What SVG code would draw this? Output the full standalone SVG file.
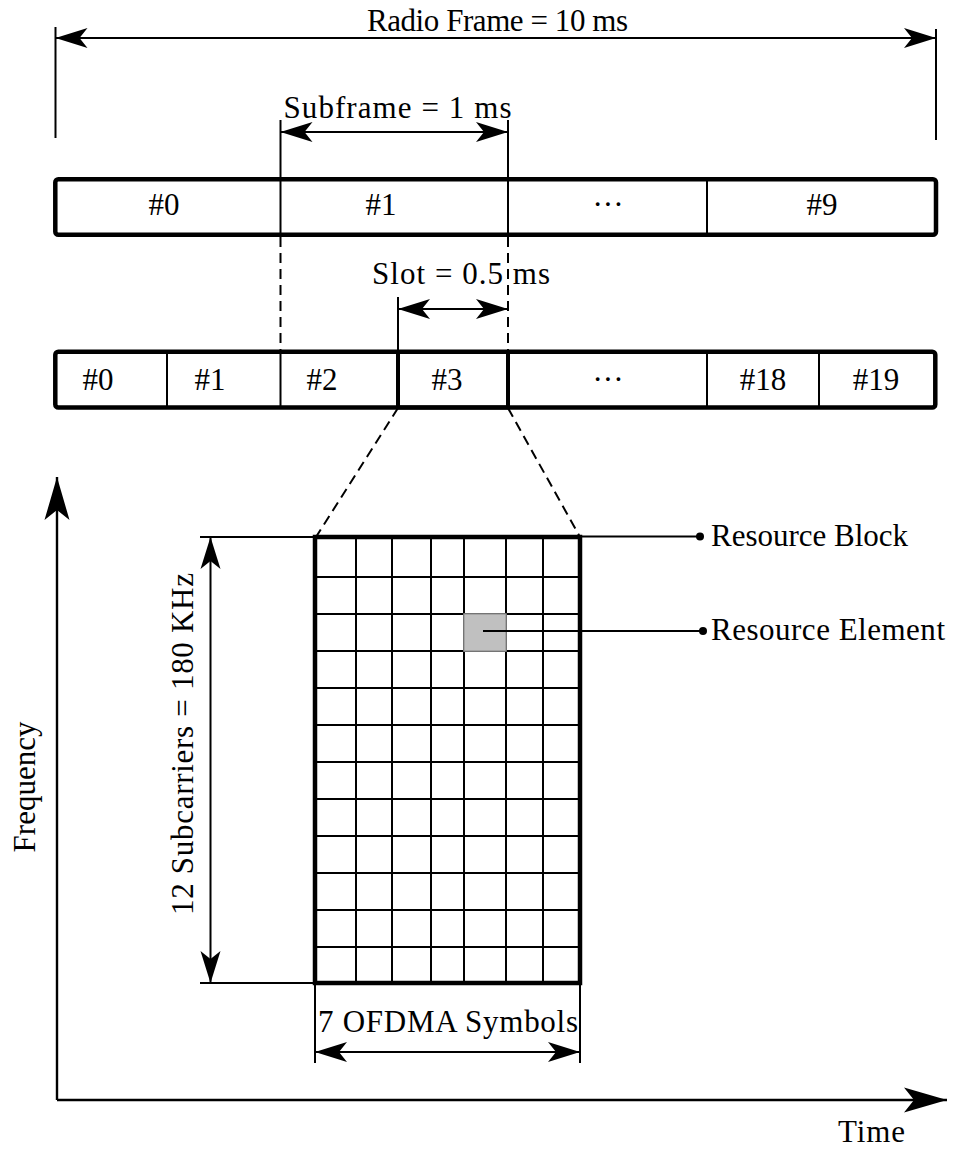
<svg xmlns="http://www.w3.org/2000/svg" width="954" height="1149" viewBox="0 0 954 1149">
<style>
text{font-family:"Liberation Serif","DejaVu Serif",serif;font-size:31px;fill:#000}
.mid{text-anchor:middle}
.thin{stroke:#000;stroke-width:2;fill:none}
.axis{stroke:#000;stroke-width:2.4;fill:none}
.bar{stroke:#000;stroke-width:4.5;fill:#fff}
.dash{stroke:#000;stroke-width:2;fill:none;stroke-dasharray:10,6}
.grid{stroke:#000;stroke-width:2;fill:none}
.dim{stroke:#000;stroke-width:2;fill:none;marker-start:url(#ah);marker-end:url(#ah)}
</style>
<defs>
<marker id="ah" viewBox="-33 -11 34 22" refX="0" refY="0" markerWidth="34" markerHeight="22" markerUnits="userSpaceOnUse" orient="auto-start-reverse">
<path d="M0,0 L-32,-10 L-24,0 L-32,10 Z" fill="#000"/>
</marker>
<marker id="big" viewBox="-44 -14 45 28" refX="0" refY="0" markerWidth="45" markerHeight="28" markerUnits="userSpaceOnUse" orient="auto">
<path d="M0,0 L-43,-12.5 L-33,0 L-43,12.5 Z" fill="#000"/>
</marker>
</defs>

<g id="radio-frame-label">
<text class="mid" x="497.5" y="31" textLength="261" lengthAdjust="spacing">Radio Frame = 10 ms</text>
</g>
<g id="subframe-label">
<text class="mid" x="397.5" y="118" textLength="228" lengthAdjust="spacing">Subframe = 1 ms</text>
</g>

<g id="frame-bar">
<rect class="bar" x="55.3" y="179.3" width="880.7" height="55.4" rx="3"/>
<line class="thin" x1="707" y1="179" x2="707" y2="235"/>
<text class="mid" x="164" y="215">#0</text>
<text class="mid" x="381" y="215">#1</text>
<text class="mid" x="608" y="215">···</text>
<text class="mid" x="822" y="215">#9</text>
</g>

<g id="slot-label">
<text class="mid" x="461" y="284" textLength="178" lengthAdjust="spacing">Slot = 0.5 ms</text>
</g>

<g id="slot-bar">
<rect class="bar" x="55.3" y="351.7" width="880" height="55.8" rx="3"/>
<line class="thin" x1="167" y1="352" x2="167" y2="407"/>
<line class="thin" x1="280.5" y1="352" x2="280.5" y2="407"/>
<line class="thin" x1="707" y1="352" x2="707" y2="407"/>
<line class="thin" x1="819" y1="352" x2="819" y2="407"/>
<rect x="398" y="352" width="110" height="55.5" fill="none" stroke="#000" stroke-width="4"/>
<text class="mid" x="98" y="390">#0</text>
<text class="mid" x="210" y="390">#1</text>
<text class="mid" x="322" y="390">#2</text>
<text class="mid" x="447" y="390">#3</text>
<text class="mid" x="608" y="390">···</text>
<text class="mid" x="763" y="390">#18</text>
<text class="mid" x="876" y="390">#19</text>
</g>

<g id="resource-grid">
<rect x="315" y="537" width="265" height="446" fill="#fff"/>
<g class="grid">
<line x1="356" y1="537" x2="356" y2="983"/>
<line x1="392" y1="537" x2="392" y2="983"/>
<line x1="431" y1="537" x2="431" y2="983"/>
<line x1="464" y1="537" x2="464" y2="983"/>
<line x1="506" y1="537" x2="506" y2="983"/>
<line x1="543" y1="537" x2="543" y2="983"/>
<line x1="315" y1="577" x2="580" y2="577"/>
<line x1="315" y1="614" x2="580" y2="614"/>
<line x1="315" y1="651" x2="580" y2="651"/>
<line x1="315" y1="688" x2="580" y2="688"/>
<line x1="315" y1="725" x2="580" y2="725"/>
<line x1="315" y1="762" x2="580" y2="762"/>
<line x1="315" y1="799" x2="580" y2="799"/>
<line x1="315" y1="836" x2="580" y2="836"/>
<line x1="315" y1="873" x2="580" y2="873"/>
<line x1="315" y1="910" x2="580" y2="910"/>
<line x1="315" y1="947" x2="580" y2="947"/>
</g>
<rect x="315" y="537" width="265" height="446" fill="none" stroke="#000" stroke-width="4.5"/>
</g>

<g id="resource-element">
<rect x="464" y="614" width="42" height="37" fill="#c0c0c0" stroke="#9a9a9a" stroke-width="1.5"/>
</g>

<g id="resource-block-label">
<text x="711" y="546" textLength="197" lengthAdjust="spacing">Resource Block</text>
</g>
<g id="resource-element-label">
<text x="711" y="640" textLength="234" lengthAdjust="spacing">Resource Element</text>
</g>

<g id="subcarriers-label">
<text class="mid" transform="translate(193,744) rotate(-90)" textLength="342" lengthAdjust="spacing">12 Subcarriers = 180 KHz</text>
</g>
<g id="ofdma-label">
<text class="mid" x="448" y="1032" textLength="260" lengthAdjust="spacing">7 OFDMA Symbols</text>
</g>
<g id="frequency-label">
<text class="mid" transform="translate(35,787) rotate(-90)">Frequency</text>
</g>
<g id="time-label">
<text class="mid" x="871.5" y="1142" textLength="67" lengthAdjust="spacing">Time</text>
</g>

<g id="connectors">
<!-- radio frame dimension -->
<line class="thin" x1="55.5" y1="27" x2="55.5" y2="138"/>
<line class="thin" x1="936" y1="29" x2="936" y2="140"/>
<line class="dim" x1="55.5" y1="38" x2="936" y2="38"/>
<!-- subframe dimension -->
<line class="thin" x1="280.5" y1="120" x2="280.5" y2="237"/>
<line class="thin" x1="508" y1="120" x2="508" y2="237"/>
<line class="dim" x1="280.5" y1="132" x2="508" y2="132"/>
<line class="dash" x1="280.5" y1="237" x2="280.5" y2="352"/>
<line class="dash" x1="508" y1="237" x2="508" y2="352"/>
<!-- slot dimension -->
<line class="thin" x1="398" y1="297" x2="398" y2="352"/>
<line class="dim" x1="398" y1="309" x2="508" y2="309"/>
<!-- zoom lines -->
<line class="dash" x1="398" y1="408" x2="316" y2="537"/>
<line class="dash" x1="508" y1="408" x2="580" y2="537"/>
<!-- subcarrier dimension -->
<line class="thin" x1="200" y1="537" x2="315" y2="537"/>
<line class="thin" x1="200" y1="983" x2="315" y2="983"/>
<line class="dim" x1="210.5" y1="537" x2="210.5" y2="983"/>
<!-- OFDMA dimension -->
<line class="thin" x1="315" y1="983" x2="315" y2="1063"/>
<line class="thin" x1="580" y1="983" x2="580" y2="1063"/>
<line class="dim" x1="315" y1="1052" x2="580" y2="1052"/>
<!-- callouts -->
<line class="thin" x1="580" y1="536.5" x2="700" y2="536.5"/>
<circle cx="700" cy="536.5" r="4" fill="#000"/>
<line class="thin" x1="483" y1="631" x2="703" y2="631"/>
<circle cx="703" cy="631" r="4" fill="#000"/>
<!-- axes -->
<path class="axis" d="M57,1100 L947,1100" marker-end="url(#big)"/>
<line class="axis" x1="57" y1="1100" x2="57" y2="477" marker-end="url(#big)"/>
</g>
</svg>
